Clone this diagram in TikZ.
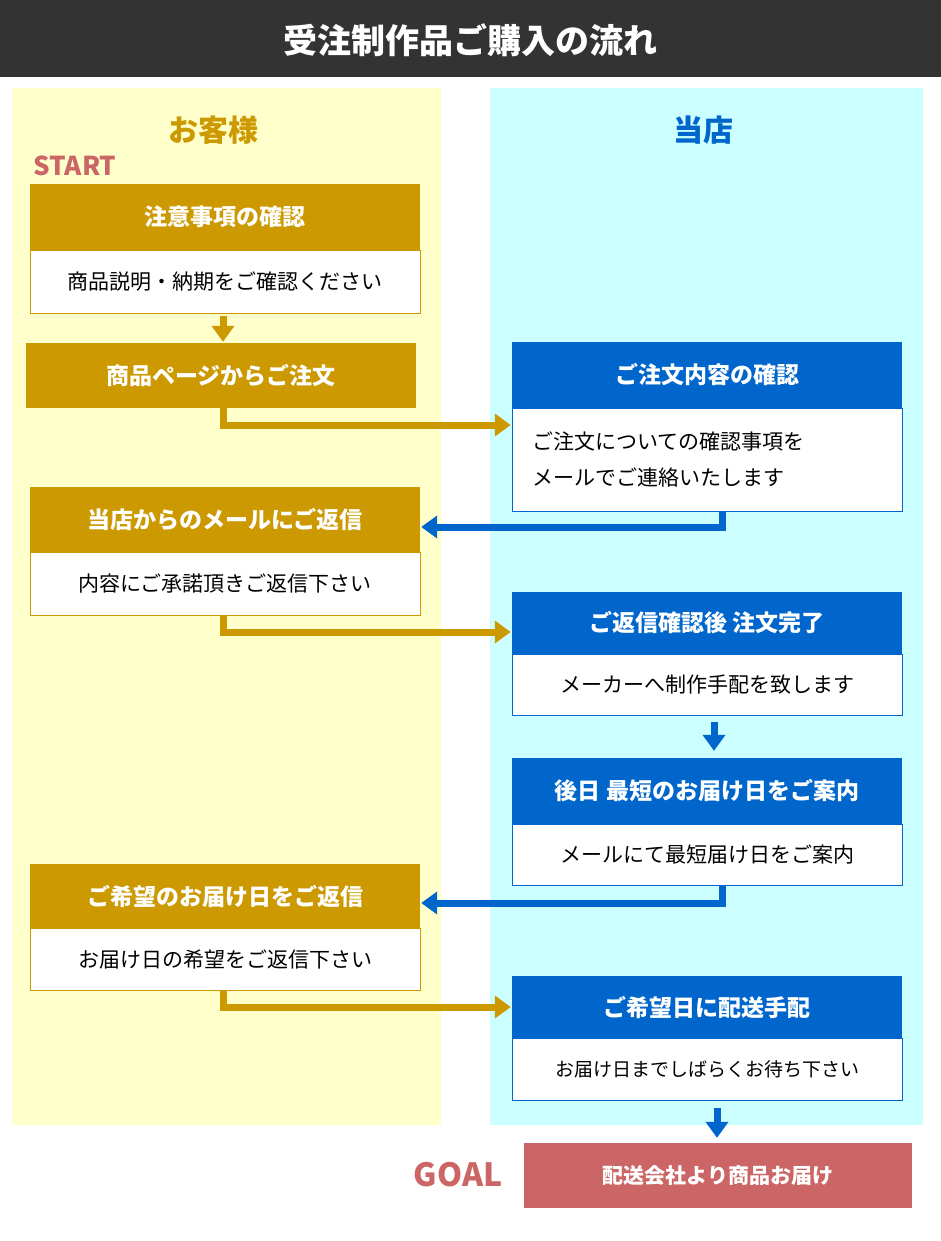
\documentclass[tikz,border=0pt]{standalone}
\usepackage{fontspec}
\setmainfont{Noto Sans CJK JP}
\usetikzlibrary{arrows.meta}
\definecolor{gold}{HTML}{CC9900}
\definecolor{blu}{HTML}{0066CC}
\definecolor{rosa}{HTML}{CC6666}
\definecolor{yel}{HTML}{FFFFCC}
\definecolor{cya}{HTML}{CCFFFF}
\definecolor{dark}{HTML}{333333}
\begin{document}
\begin{tikzpicture}[x=1pt,y=-1pt,
 hdr/.style={rectangle,minimum width=390pt,inner sep=0pt,text=white,font=\fontsize{23}{26}\selectfont\bfseries},
 bod/.style={rectangle,fill=white,minimum width=390pt,inner sep=0pt,font=\fontsize{21}{36}\selectfont,align=left},
 arr/.style={line width=7pt,-{Triangle[length=16pt,width=22pt]}}]
\useasboundingbox (0,0) rectangle (941,1241);
\fill[white] (0,0) rectangle (941,1241);
\fill[dark] (0,0) rectangle (941,77);
\node[text=white,font=\fontsize{34}{38}\selectfont\bfseries] (title) at (470,40) {受注制作品ご購入の流れ};
\fill[yel] (12,88) rectangle (441,1125);
\fill[cya] (490,88) rectangle (923,1125);
\node[text=gold,font=\fontsize{30}{34}\selectfont\bfseries] (cust) at (213,130) {お客様};
\node[text=blu,font=\fontsize{30}{34}\selectfont\bfseries] (shop) at (703,130) {当店};
\node[text=rosa,font=\fontsize{26}{30}\selectfont\bfseries] (start) at (75,166) {START};
% left
\node[hdr,fill=gold,minimum height=66pt] (l1h) at (225,217) {注意事項の確認};
\node[bod,draw=gold,minimum height=63pt] (l1b) at (225,281.5) {商品説明・納期をご確認ください};
\node[hdr,fill=gold,minimum height=65pt] (l2h) at (221,375.5) {商品ページからご注文};
\node[hdr,fill=gold,minimum height=65pt] (l3h) at (225,519.5) {当店からのメールにご返信};
\node[bod,draw=gold,minimum height=63pt] (l3b) at (225,583.5) {内容にご承諾頂きご返信下さい};
\node[hdr,fill=gold,minimum height=64pt] (l4h) at (225,896) {ご希望のお届け日をご返信};
\node[bod,draw=gold,minimum height=62pt] (l4b) at (225,959) {お届け日の希望をご返信下さい};
% right
\node[hdr,fill=blu,minimum height=66pt] (r1h) at (707,375) {ご注文内容の確認};
\node[bod,draw=blu,minimum height=103pt,text width=350pt] (r1b) at (707,459.5) {ご注文についての確認事項を\\メールでご連絡いたします};
\node[hdr,fill=blu,minimum height=62pt] (r2h) at (707,623) {ご返信確認後 注文完了};
\node[bod,draw=blu,minimum height=61pt] (r2b) at (707,684.5) {メーカーへ制作手配を致します};
\node[hdr,fill=blu,minimum height=66pt] (r3h) at (707,791) {後日 最短のお届け日をご案内};
\node[bod,draw=blu,minimum height=61pt] (r3b) at (707,854.5) {メールにて最短届け日をご案内};
\node[hdr,fill=blu,minimum height=62pt] (r4h) at (707,1007) {ご希望日に配送手配};
\node[bod,draw=blu,minimum height=62pt,font=\fontsize{19}{24}\selectfont] (r4b) at (707,1069) {お届け日までしばらくお待ち下さい};
\node[hdr,fill=rosa,minimum width=388pt,minimum height=65pt,font=\fontsize{21}{24}\selectfont\bfseries] (goal) at (718,1175.5) {配送会社より商品お届け};
\node[text=rosa,font=\fontsize{32}{36}\selectfont\bfseries] (goalt) at (458,1175) {GOAL};
% arrows
\draw[arr,gold] ([xshift=-2pt,yshift=-3pt]l1b.south) -- ([xshift=2pt,yshift=1pt]l2h.north);
\draw[arr,gold] ([xshift=2pt]l2h.south) |- ([xshift=-1pt,yshift=34.5pt]r1b.west);
\draw[arr,blu] ([xshift=15pt]r1b.south) |- ([xshift=1pt,yshift=-7.5pt]l3h.east);
\draw[arr,gold] ([xshift=-2pt]l3b.south) |- ([xshift=-1pt,yshift=-9pt]r2h.west);
\draw[arr,blu] ([xshift=7pt,yshift=-7pt]r2b.south) -- ([xshift=7pt,yshift=7pt]r3h.north);
\draw[arr,blu] ([xshift=15pt]r3b.south) |- ([xshift=1pt,yshift=-7pt]l4h.east);
\draw[arr,gold] ([xshift=-2pt]l4b.south) |- ([xshift=-1pt]r4h.west);
\draw[arr,blu] ([xshift=10pt,yshift=-8pt]r4b.south) -- ([xshift=-1pt,yshift=5pt]goal.north);
\end{tikzpicture}
\end{document}
